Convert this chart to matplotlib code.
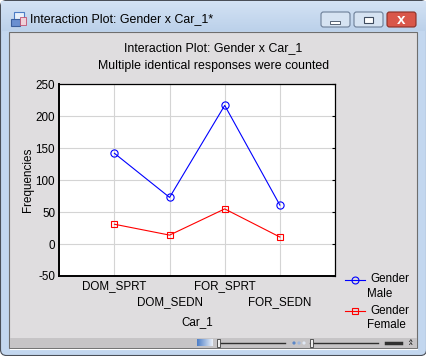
import numpy as np
import matplotlib
matplotlib.use("Agg")
import matplotlib.pyplot as plt
from matplotlib.patches import Rectangle, FancyBboxPatch, Circle
from matplotlib.lines import Line2D

# ---- data ----
categories = ["DOM_SPRT", "DOM_SEDN", "FOR_SPRT", "FOR_SEDN"]
male = [142, 73, 217, 61]
female = [31, 14, 55, 11]
series_names = [("Gender", "Male"), ("Gender", "Female")]
y_ticks = [-50, 0, 50, 100, 150, 200, 250]
window_title = "Interaction Plot: Gender x Car_1*"
chart_title = "Interaction Plot: Gender x Car_1"
chart_subtitle = "Multiple identical responses were counted"
x_label = "Car_1"
y_label = "Frequencies"

W, H = 427, 356
plt.rcParams['font.family'] = ['Liberation Sans', 'DejaVu Sans']
fig = plt.figure(figsize=(W / 100, H / 100), dpi=100)

# ---- window chrome (pixel coordinates) ----
bg = fig.add_axes([0, 0, 1, 1])
bg.set_xlim(0, W)
bg.set_ylim(H, 0)
bg.axis("off")

frame_blue = "#c3d7ef"
content_gray = "#dfdddf"
bg.add_patch(Rectangle((0, 0), W, H, color="white", zorder=0))
bg.add_patch(FancyBboxPatch((0.5, 0.5), W - 1, H - 1, boxstyle="round,pad=0,rounding_size=6",
                            fc=frame_blue, ec="#4a4f58", lw=0.8, zorder=1))
# title bar gradient
grad = np.linspace(0, 1, 30).reshape(-1, 1)
bg.imshow(grad, extent=(1, W - 1, 31, 1), cmap=matplotlib.colors.LinearSegmentedColormap.from_list(
    "tb", ["#d3e2f4", "#bcd1ea"]), aspect="auto", zorder=2)
# content area
bg.add_patch(Rectangle((9.5, 32), 408, 316, fc=content_gray, ec="#6e6e6e", lw=0.8, zorder=3))
# status bar
bg.add_patch(Rectangle((10, 338), 407.5, 10, fc="#c6c4c6", ec="none", zorder=4))
bg.add_line(Line2D([10, 417.5], [348.6, 348.6], color="white", lw=0.8, zorder=4))
# window title text and icon
bg.text(30, 19.5, window_title, fontsize=8.9, va="center", ha="left", color="#000000", zorder=5)
bg.add_patch(Rectangle((14, 12), 10, 8, fc="#e8f0fa", ec="#4c7cc4", lw=0.8, zorder=5))
bg.add_patch(Rectangle((11, 19), 9, 7, fc="#6a8fd0", ec="#3c5f9c", lw=0.8, zorder=6))
bg.add_patch(Rectangle((20, 17), 6, 8, fc="#f0d0d8", ec="#c05070", lw=0.6, zorder=6))
# window buttons
for x0, fc, ec in [(321, "#d6e3f2", "#6d7f98"), (354, "#d6e3f2", "#6d7f98"), (387, "#d9574a", "#8a2e25")]:
    bg.add_patch(FancyBboxPatch((x0, 12), 29, 15, boxstyle="round,pad=0,rounding_size=2.5",
                                fc=fc, ec=ec, lw=0.8, zorder=5))
bg.add_patch(Rectangle((330.5, 20.5), 10, 3, fc="white", ec="#3e4b5e", lw=0.6, zorder=6))
bg.add_patch(Rectangle((364, 16.5), 9, 6, fc="white", ec="#3e4b5e", lw=0.8, zorder=6))
bg.text(401.5, 19.5, "x", fontsize=11, fontweight="bold", color="white", ha="center", va="center", zorder=6)
# status bar slider widgets
sgrad = np.linspace(0, 1, 20).reshape(1, -1)
bg.imshow(sgrad, extent=(197, 213, 346, 339), cmap=matplotlib.colors.LinearSegmentedColormap.from_list(
    "sb", ["#4f80c8", "#e8eef8"]), aspect="auto", zorder=5)
bg.add_line(Line2D([218, 285], [343, 343], color="#303030", lw=1.0, zorder=5))
bg.add_patch(Rectangle((217, 339), 3, 8, fc="#eeeeee", ec="#404040", lw=0.6, zorder=6))
for cx, c in [(294, "#5b87c8"), (299, "#9fb6dc"), (304, "#e0e8f4")]:
    bg.add_patch(Circle((cx, 343), 1.6, fc=c, ec="none", zorder=6))
bg.add_line(Line2D([310, 378], [343, 343], color="#303030", lw=1.0, zorder=5))
bg.add_patch(Rectangle((310, 339), 3, 8, fc="#eeeeee", ec="#404040", lw=0.6, zorder=6))
bg.add_line(Line2D([386, 401], [343, 343], color="#303030", lw=2.5, zorder=6))
bg.text(411, 343, "^\n^", fontsize=4.5, ha="center", va="center", linespacing=0.5, fontweight="bold", zorder=6)

# ---- chart ----
L, R, T, B = 59.3, 335.0, 84.3, 276.0
ax = fig.add_axes([L / W, 1 - B / H, (R - L) / W, (B - T) / H])
ax.set_facecolor("white")
x = np.arange(1, len(categories) + 1)
ax.plot(x, male, color="#0000ff", lw=0.8, marker="o", ms=5.2, mfc="none", mec="#0000ff", mew=0.8, zorder=3)
ax.plot(x, female, color="#ff0000", lw=0.8, marker="s", ms=5.0, mfc="none", mec="#ff0000", mew=0.8, zorder=3)
ax.set_xlim(0, len(categories) + 1)
ax.set_ylim(-50, 250)
ax.set_yticks(y_ticks)
ax.set_yticklabels([str(v) for v in y_ticks], fontsize=8.4)
ax.set_xticks(x)
ax.set_xticklabels([])
ax.grid(True, color="#d4d4d4", lw=0.8, zorder=0)
ax.set_axisbelow(True)
ax.tick_params(axis="y", which="both", left=False, right=True, direction="in", length=2.5, width=0.8, pad=3)
ax.tick_params(axis="x", which="both", bottom=False, top=False)
for s in ax.spines.values():
    s.set_linewidth(0.9)
ax.spines["left"].set_linewidth(1.4)
ax.spines["bottom"].set_linewidth(1.4)

# staggered category labels
for i, c in enumerate(categories):
    off = -10.5 if i % 2 == 0 else -26.5
    ax.annotate(c, xy=(x[i], -50), xycoords="data", xytext=(0, off * 0.72), textcoords="offset points",
                ha="center", va="center", fontsize=8.4)
ax.annotate(x_label, xy=(0.5, 0), xycoords="axes fraction", xytext=(0, -46.5 * 0.72),
            textcoords="offset points", ha="center", va="center", fontsize=8.4)
ax.set_ylabel(y_label, fontsize=8.4, labelpad=1)

# titles
bg.text(W / 2, 48, chart_title, fontsize=8.9, ha="center", va="center", zorder=5)
bg.text(W / 2, 65.5, chart_subtitle, fontsize=8.9, ha="center", va="center", zorder=5)

# legend
for (n1, n2), col, mk, yy in [(series_names[0], "#0000ff", "o", 279.5), (series_names[1], "#ff0000", "s", 310.5)]:
    bg.add_line(Line2D([345, 365], [yy, yy], color=col, lw=0.8, zorder=6))
    bg.add_line(Line2D([355], [yy], color=col, marker=mk, ms=5 if mk == "o" else 4.8, mfc="none",
                       mec=col, mew=0.8, zorder=6))
    bg.text(370.5, yy, n1, fontsize=8.4, ha="left", va="center", zorder=6)
    bg.text(367.5, yy + 14.5, n2, fontsize=8.4, ha="left", va="center", zorder=6)

fig.savefig("out.png", dpi=100)
